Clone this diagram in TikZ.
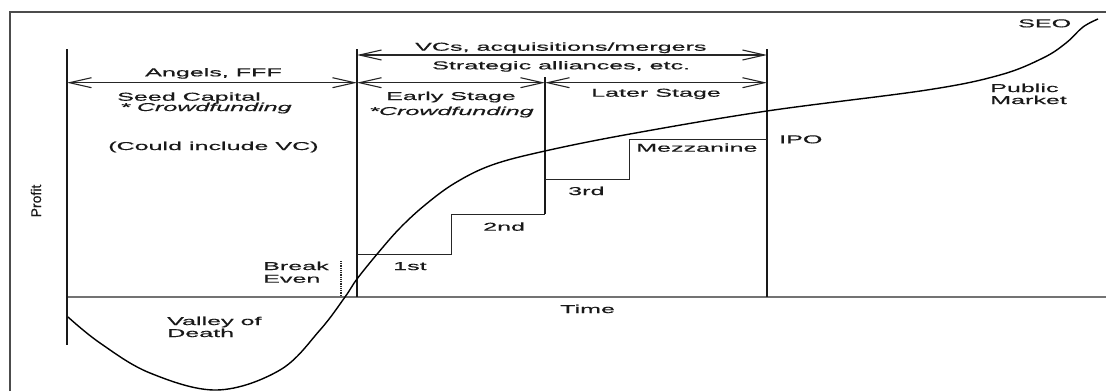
\documentclass[tikz,border=0pt]{standalone}
\usepackage{fontspec}
\usepackage{graphicx}
\usetikzlibrary{arrows.meta}
\setmainfont{Liberation Sans}
\newfontfamily\wf{Liberation Sans}[FakeStretch=2.2,FakeBold=0.5]
\newfontfamily\pf{Liberation Sans}[FakeBold=0.5]
\tikzset{
  lbl/.style={font=\wf\fontsize{11.4}{12}\selectfont, inner sep=0pt, anchor=base west, text=black!90},
  framel/.style={draw=black!70, line width=1.3pt},
  mainv/.style={draw=black!90, line width=1.8pt},
  stepl/.style={draw=black!85, line width=1pt},
  axisl/.style={draw=black!55, line width=1.6pt},
  span/.style={draw=black!85, line width=1.1pt, {Straight Barb[length=22pt,width=10pt]}-{Straight Barb[length=22pt,width=10pt]}},
  curvel/.style={draw=black, line width=1.4pt},
  dotl/.style={draw=black!85, line width=2pt, dash pattern=on 1pt off 0.8pt}
}
\begin{document}
\begin{tikzpicture}[x=1pt,y=-1pt]
\useasboundingbox (0,0) rectangle (1106,391);
\fill[white] (0,0) rectangle (1106,391);
% frame
\coordinate (fBL) at (10,391);
\coordinate (fTL) at (10,12);
\coordinate (fTR) at (1106,12);
\draw[framel] (fBL) -- (fTL) -- (fTR);
% axis
\coordinate (ax0) at (67,297);
\coordinate (ax1) at (1106,297);
\draw[axisl] (ax0) -- (ax1);
% vertical lines
\coordinate (v1t) at (67,49);   \coordinate (v1b) at (67,345);
\coordinate (v2t) at (357,49);  \coordinate (v2b) at (357,297);
\coordinate (v3t) at (545,77);  \coordinate (v3b) at (545,214);
\coordinate (v4t) at (767,49);  \coordinate (v4b) at (767,297);
\draw[mainv] (v1t) -- (v1b);
\draw[mainv] (v2t) -- (v2b);
\draw[mainv] (v3t) -- (v3b);
\draw[mainv] (v4t) -- (v4b);
% steps
\coordinate (s1a) at (357,254.3); \coordinate (s1b) at (451,254.3);
\coordinate (s1c) at (451,214);   \coordinate (s1d) at (545,214);
\coordinate (s3a) at (545,179.3); \coordinate (s3b) at (629.3,179.3);
\coordinate (s3c) at (629.3,139.3); \coordinate (s3d) at (767,139.3);
\draw[stepl] (s1a) -- (s1b) -- (s1c) -- (s1d);
\draw[stepl] (s3a) -- (s3b) -- (s3c) -- (s3d);
% dotted break-even line
\coordinate (d1) at (341,261); \coordinate (d2) at (341,297);
\draw[dotl] (d1) -- (d2);
% span arrows
\coordinate (a1l) at (357,55);   \coordinate (a1r) at (767,55);
\coordinate (a2a) at (67,82.7);  \coordinate (a2b) at (357,82.7);
\coordinate (a2c) at (545,82.7); \coordinate (a2d) at (767,82.7);
\draw[span] (a1l) -- (a1r);
\draw[span] (a2a) -- (a2b);
\draw[span] (a2b) -- (a2c);
\draw[span] (a2c) -- (a2d);
% curve
\draw[curvel] plot[smooth, tension=0.6] coordinates {
 (68,317) (100,343) (150,373) (217,390) (280,370) (320,330) (345,297) (357,279)
 (378,253) (400,228) (425,205) (455,183) (492,165) (545,151) (630,134) (767,111)
 (927,90) (1000,75) (1043,58) (1066,43) (1083,27) (1098,19)};
% labels
\node[lbl] (vcs) at (415,50.7) {VCs, acquisitions/mergers};
\node[lbl] (strat) at (432,69.3) {Strategic alliances, etc.};
\node[lbl] (angels) at (145,76.3) {Angels, FFF};
\node[lbl] (seed) at (117,100.7) {Seed Capital};
\node[lbl] (cf1) at (120,111) {\itshape * Crowdfunding};
\node[lbl] (could) at (108,150) {(Could include VC)};
\node[lbl] (early) at (386,100) {Early Stage};
\node[lbl] (cf2) at (369,115) {\itshape *Crowdfunding};
\node[lbl] (later) at (591,96.7) {Later Stage};
\node[lbl] (mezz) at (636,151.7) {Mezzanine};
\node[lbl] (third) at (568,195) {3rd};
\node[lbl] (second) at (483,230.7) {2nd};
\node[lbl] (first) at (393,270) {1st};
\node[lbl] (break) at (263,270) {Break};
\node[lbl] (even) at (263,282.7) {Even};
\node[lbl] (valley) at (167,325) {Valley of};
\node[lbl] (death) at (167,337) {Death};
\node[lbl] (time) at (560,313) {Time};
\node[lbl] (ipo) at (779,143.3) {IPO};
\node[lbl] (public) at (990,92) {Public};
\node[lbl] (market) at (990,104) {Market};
\node[lbl] (seo) at (1018,27.3) {SEO};
\node[font=\pf\fontsize{14}{14}\selectfont, inner sep=0pt, rotate=90, text=black!90] (profit) at (36,201) {Profit};
\end{tikzpicture}
\end{document}
